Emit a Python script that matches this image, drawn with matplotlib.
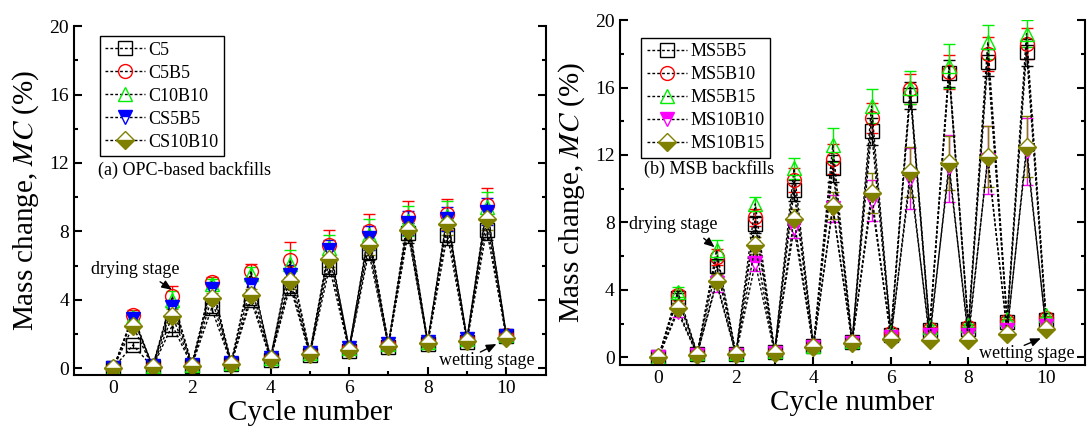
import matplotlib.pyplot as plt
import numpy as np

plt.rcParams['font.family'] = 'serif'
plt.rcParams['font.serif'] = ['Liberation Serif', 'DejaVu Serif']
plt.rcParams['mathtext.fontset'] = 'stix'

# cycle number: wetting at integers, drying at half-integers
cycle = np.arange(0, 10.5, 0.5)

# (a) OPC-based backfills
opc_names = ['C5', 'C5B5', 'C10B10', 'CS5B5', 'CS10B10']
c5 = [0, 1.35, 0.05, 2.5, 0.15, 3.5, 0.25, 4.0, 0.5, 4.8, 0.75, 5.9, 1.0, 6.8, 1.25, 7.9, 1.4, 7.8, 1.55, 8.1, 1.85]
c5b5 = [0, 3.1, 0.1, 4.2, 0.2, 5.05, 0.3, 5.7, 0.6, 6.35, 0.9, 7.2, 1.15, 8.0, 1.4, 8.85, 1.55, 9.0, 1.7, 9.55, 1.95]
c10b10 = [0, 3.0, 0.1, 4.0, 0.2, 4.9, 0.3, 5.5, 0.6, 6.1, 0.9, 7.0, 1.15, 7.8, 1.4, 8.6, 1.55, 8.9, 1.7, 9.4, 1.95]
cs5b5 = [0, 2.9, 0.1, 3.6, 0.2, 4.6, 0.3, 4.85, 0.6, 5.45, 0.9, 6.9, 1.15, 7.6, 1.4, 8.5, 1.55, 8.7, 1.7, 9.15, 1.9]
cs10b10 = [0, 2.45, 0.05, 3.05, 0.15, 4.1, 0.25, 4.3, 0.55, 5.1, 0.8, 6.4, 1.05, 7.2, 1.3, 8.1, 1.45, 8.4, 1.6, 8.7, 1.75]

c5_err = [0.05, 0.2, 0.05, 0.6, 0.1, 0.3, 0.1, 0.3, 0.1, 0.5, 0.1, 0.5, 0.1, 0.5, 0.1, 0.6, 0.1, 0.6, 0.1, 0.6, 0.1]
c5b5_err = [0.05, 0.3, 0.05, 0.6, 0.1, 0.3, 0.1, 0.4, 0.1, 1.0, 0.1, 0.9, 0.1, 1.0, 0.1, 0.9, 0.1, 0.9, 0.1, 1.0, 0.1]
c10b10_err = [0.05, 0.3, 0.05, 0.5, 0.1, 0.3, 0.1, 0.4, 0.1, 0.8, 0.1, 0.8, 0.1, 0.9, 0.1, 0.9, 0.1, 0.9, 0.1, 0.9, 0.1]
cs5b5_err = [0.05, 0.2, 0.05, 0.4, 0.1, 0.3, 0.1, 0.4, 0.1, 0.6, 0.1, 0.6, 0.1, 0.7, 0.1, 0.7, 0.1, 0.7, 0.1, 0.8, 0.1]
cs10b10_err = [0.05, 0.2, 0.05, 0.4, 0.1, 0.3, 0.1, 0.3, 0.1, 0.5, 0.1, 0.5, 0.1, 0.6, 0.1, 0.6, 0.1, 0.6, 0.1, 0.6, 0.1]

# (b) MSB backfills
msb_names = ['MS5B5', 'MS5B10', 'MS5B15', 'MS10B10', 'MS10B15']
ms5b5 = [0, 3.5, 0.2, 5.4, 0.2, 7.9, 0.3, 9.9, 0.65, 11.2, 0.9, 13.4, 1.3, 15.55, 1.6, 16.85, 1.7, 17.5, 2.1, 18.1, 2.2]
ms5b10 = [0, 3.7, 0.2, 5.95, 0.2, 8.3, 0.3, 10.5, 0.65, 11.75, 0.9, 14.2, 1.45, 15.9, 1.7, 16.9, 1.8, 18.0, 2.15, 18.6, 2.35]
ms5b15 = [0, 3.9, 0.25, 6.35, 0.25, 9.1, 0.35, 11.2, 0.7, 12.6, 0.95, 14.9, 1.5, 16.0, 1.8, 17.3, 1.9, 18.7, 2.3, 19.2, 2.5]
ms10b10 = [0, 2.7, 0.15, 4.4, 0.15, 5.6, 0.25, 7.65, 0.6, 8.85, 0.85, 9.3, 1.2, 10.6, 1.3, 11.2, 1.35, 11.7, 1.6, 12.2, 1.85]
ms10b15 = [0, 2.9, 0.15, 4.55, 0.2, 6.65, 0.25, 8.2, 0.6, 9.0, 0.85, 9.75, 1.1, 11.0, 1.0, 11.5, 1.05, 11.9, 1.4, 12.5, 1.7]

ms5b5_err = [0.05, 0.3, 0.05, 0.4, 0.1, 0.5, 0.1, 0.6, 0.1, 0.8, 0.1, 0.8, 0.1, 0.8, 0.1, 0.8, 0.1, 0.8, 0.1, 0.8, 0.1]
ms5b10_err = [0.05, 0.3, 0.05, 0.5, 0.1, 0.5, 0.1, 0.7, 0.1, 0.9, 0.1, 0.9, 0.1, 0.9, 0.1, 1.0, 0.1, 1.0, 0.1, 0.9, 0.1]
ms5b15_err = [0.05, 0.3, 0.05, 0.6, 0.1, 0.4, 0.1, 0.6, 0.1, 1.0, 0.1, 1.0, 0.1, 1.0, 0.1, 1.3, 0.1, 1.0, 0.1, 0.8, 0.1]
ms10b10_err = [0.05, 0.3, 0.05, 0.5, 0.1, 0.5, 0.1, 0.6, 0.1, 0.8, 0.1, 1.2, 0.1, 1.8, 0.1, 2.0, 0.1, 2.0, 0.1, 2.0, 0.1]
ms10b15_err = [0.05, 0.3, 0.05, 0.4, 0.1, 0.5, 0.1, 0.6, 0.1, 0.8, 0.1, 1.2, 0.1, 1.5, 0.1, 1.6, 0.1, 1.8, 0.1, 1.8, 0.1]

# marker style per series slot: marker, colour, fillstyle
styles = [('s', 'black', 'none'), ('o', 'red', 'none'), ('^', '#00ee00', 'none'),
          ('v', 'blue', 'top'), ('D', '#808000', 'bottom')]
styles_b = [('s', 'black', 'none'), ('o', 'red', 'none'), ('^', '#00ee00', 'none'),
            ('v', 'magenta', 'top'), ('D', '#808000', 'bottom')]


def panel(ax, names, series, errs, sty, anchor):
    handles = []
    for name, y, e, (m, c, fs) in zip(names, series, errs, sty):
        ms = 9 if m == 'D' else 10
        if fs == 'none':
            kw = dict(mfc='none', mec=c)
        else:
            kw = dict(mfc=c, mec=c, fillstyle=fs, markerfacecoloralt='white')
        cont = ax.errorbar(cycle, y, yerr=e, color='black', ls=(0, (2, 1.5)), lw=1,
                           marker=m, ms=ms, mew=1, ecolor=c, elinewidth=1,
                           capsize=4, capthick=1, **kw)
        handles.append(cont[0])
    ax.set_xlim(-1, 11)
    ax.set_xticks([0, 2, 4, 6, 8, 10])
    ax.set_xticks(np.arange(1, 11, 2), minor=True)
    ax.set_yticks([0, 4, 8, 12, 16, 20])
    ax.set_yticks([2, 6, 10, 14, 18], minor=True)
    ax.tick_params(which='both', direction='in', right=True, top=False,
                   labelsize=14, width=1.5)
    ax.tick_params(which='major', length=6)
    ax.tick_params(which='minor', length=3)
    ax.spines['top'].set_visible(False)
    for s in ['left', 'right', 'bottom']:
        ax.spines[s].set_linewidth(1.5)
    ax.set_xlabel('Cycle number', fontsize=21, labelpad=2)
    ax.set_ylabel(r'Mass change, $\mathit{MC}$ (%)', fontsize=21, labelpad=6)
    leg = ax.legend(handles, names, loc='upper left', bbox_to_anchor=anchor,
                    borderaxespad=0, fontsize=13, handlelength=2.2,
                    labelspacing=0.33, borderpad=0.3, handletextpad=0.2,
                    fancybox=False, edgecolor='black', framealpha=1)
    leg.get_frame().set_linewidth(1)


def arrow(ax, start, end):
    ax.annotate('', xy=end, xytext=start,
                arrowprops=dict(arrowstyle='-|>,head_length=0.6,head_width=0.25',
                                color='black', lw=1, shrinkA=0, shrinkB=0))


fig = plt.figure(figsize=(10.89, 4.36), dpi=100)
ax1 = fig.add_axes([0.068, 0.140, 0.433, 0.800])
ax2 = fig.add_axes([0.569, 0.163, 0.427, 0.791])

panel(ax1, opc_names, [c5, c5b5, c10b10, cs5b5, cs10b10],
      [c5_err, c5b5_err, c10b10_err, cs5b5_err, cs10b10_err], styles, (0.055, 0.971))
ax1.set_ylim(-0.4, 20)
ax1.text(-0.38, 11.6, '(a) OPC-based backfills', fontsize=13, va='center')
ax1.text(0.56, 5.75, 'drying stage', fontsize=13, ha='center', va='center')
arrow(ax1, (1.19, 5.05), (1.49, 4.58))
ax1.text(9.5, 0.45, 'wetting stage', fontsize=13, ha='center', va='center')
arrow(ax1, (9.34, 0.94), (9.75, 1.41))

panel(ax2, msb_names, [ms5b5, ms5b10, ms5b15, ms10b10, ms10b15],
      [ms5b5_err, ms5b10_err, ms5b15_err, ms10b10_err, ms10b15_err], styles_b, (0.047, 0.948))
ax2.set_ylim(-0.45, 20)
ax2.text(-0.38, 11.16, '(b) MSB backfills', fontsize=13, va='center')
ax2.text(0.38, 7.85, 'drying stage', fontsize=13, ha='center', va='center')
arrow(ax2, (1.17, 7.06), (1.45, 6.53))
ax2.text(9.5, 0.25, 'wetting stage', fontsize=13, ha='center', va='center')
arrow(ax2, (9.44, 0.71), (9.87, 1.13))

fig.savefig('out.png', dpi=100)
